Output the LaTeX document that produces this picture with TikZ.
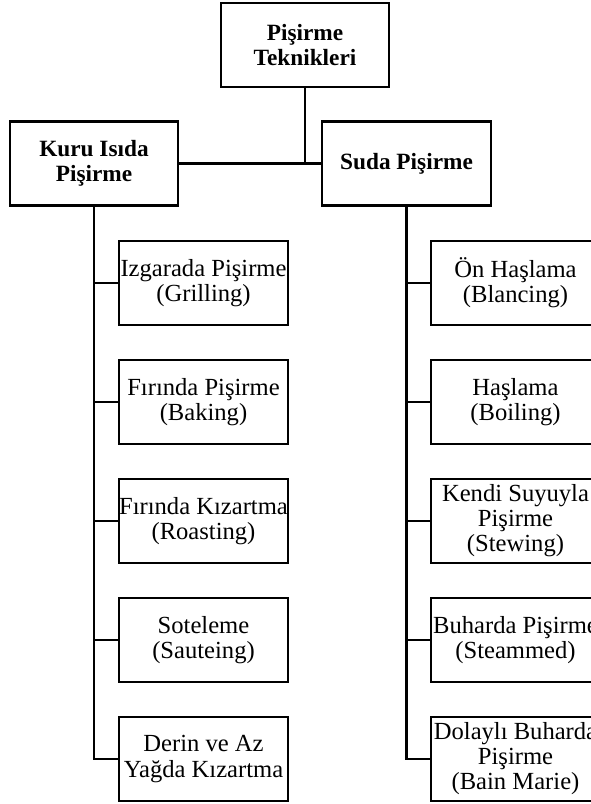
\documentclass[tikz,border=0pt]{standalone}
\usepackage{fontspec}
\setmainfont{Liberation Serif}
\usetikzlibrary{positioning}

\begin{document}
\begin{tikzpicture}[x=1pt,y=-1pt,
  head/.style={draw,line width=2.5pt,minimum width=168pt,minimum height=84pt,align=center,inner sep=0pt,font=\fontsize{23.3}{25}\selectfont\bfseries},
  item/.style={draw,line width=2.5pt,minimum width=169pt,minimum height=84pt,align=center,inner sep=0pt,font=\fontsize{24.6}{25}\selectfont},
  link/.style={line width=2.5pt}]
\useasboundingbox (0,0) rectangle (591,804);

% Top level
\node[head] (top) at (305,45) {Pişirme\\Teknikleri};
\node[head] (kuru) at (94,163.5) {Kuru Isıda\\Pişirme};
\node[head,minimum width=169pt] (suda) at (406.5,163.5) {Suda Pişirme};
\draw[link] (top.south) -- (top.south |- kuru.east);
\draw[link] (kuru.east) -- (suda.west);

% Dry heat methods
\foreach \t [count=\i] in {{Izgarada Pişirme\\(Grilling)},{Fırında Pişirme\\(Baking)},{Fırında Kızartma\\(Roasting)},{Soteleme\\(Sauteing)},{Derin ve Az\\Yağda Kızartma}}
  \node[item] (k\i) at (203.5,{283+119*(\i-1)}) {\t};
\draw[link] (kuru.south) |- (k5.west);
\foreach \i in {1,...,4}
  \draw[link] (kuru.south |- k\i.west) -- (k\i.west);

% Water based methods
\foreach \t [count=\i] in {{Ön Haşlama\\(Blancing)},{Haşlama\\(Boiling)},{Kendi Suyuyla\\Pişirme\\(Stewing)},{Buharda Pişirme\\(Steammed)},{Dolaylı Buharda\\Pişirme\\(Bain Marie)}}
  \node[item] (s\i) at (515.5,{283+119*(\i-1)}) {\t};
\draw[link] (suda.south) |- (s5.west);
\foreach \i in {1,...,4}
  \draw[link] (suda.south |- s\i.west) -- (s\i.west);
\end{tikzpicture}
\end{document}
